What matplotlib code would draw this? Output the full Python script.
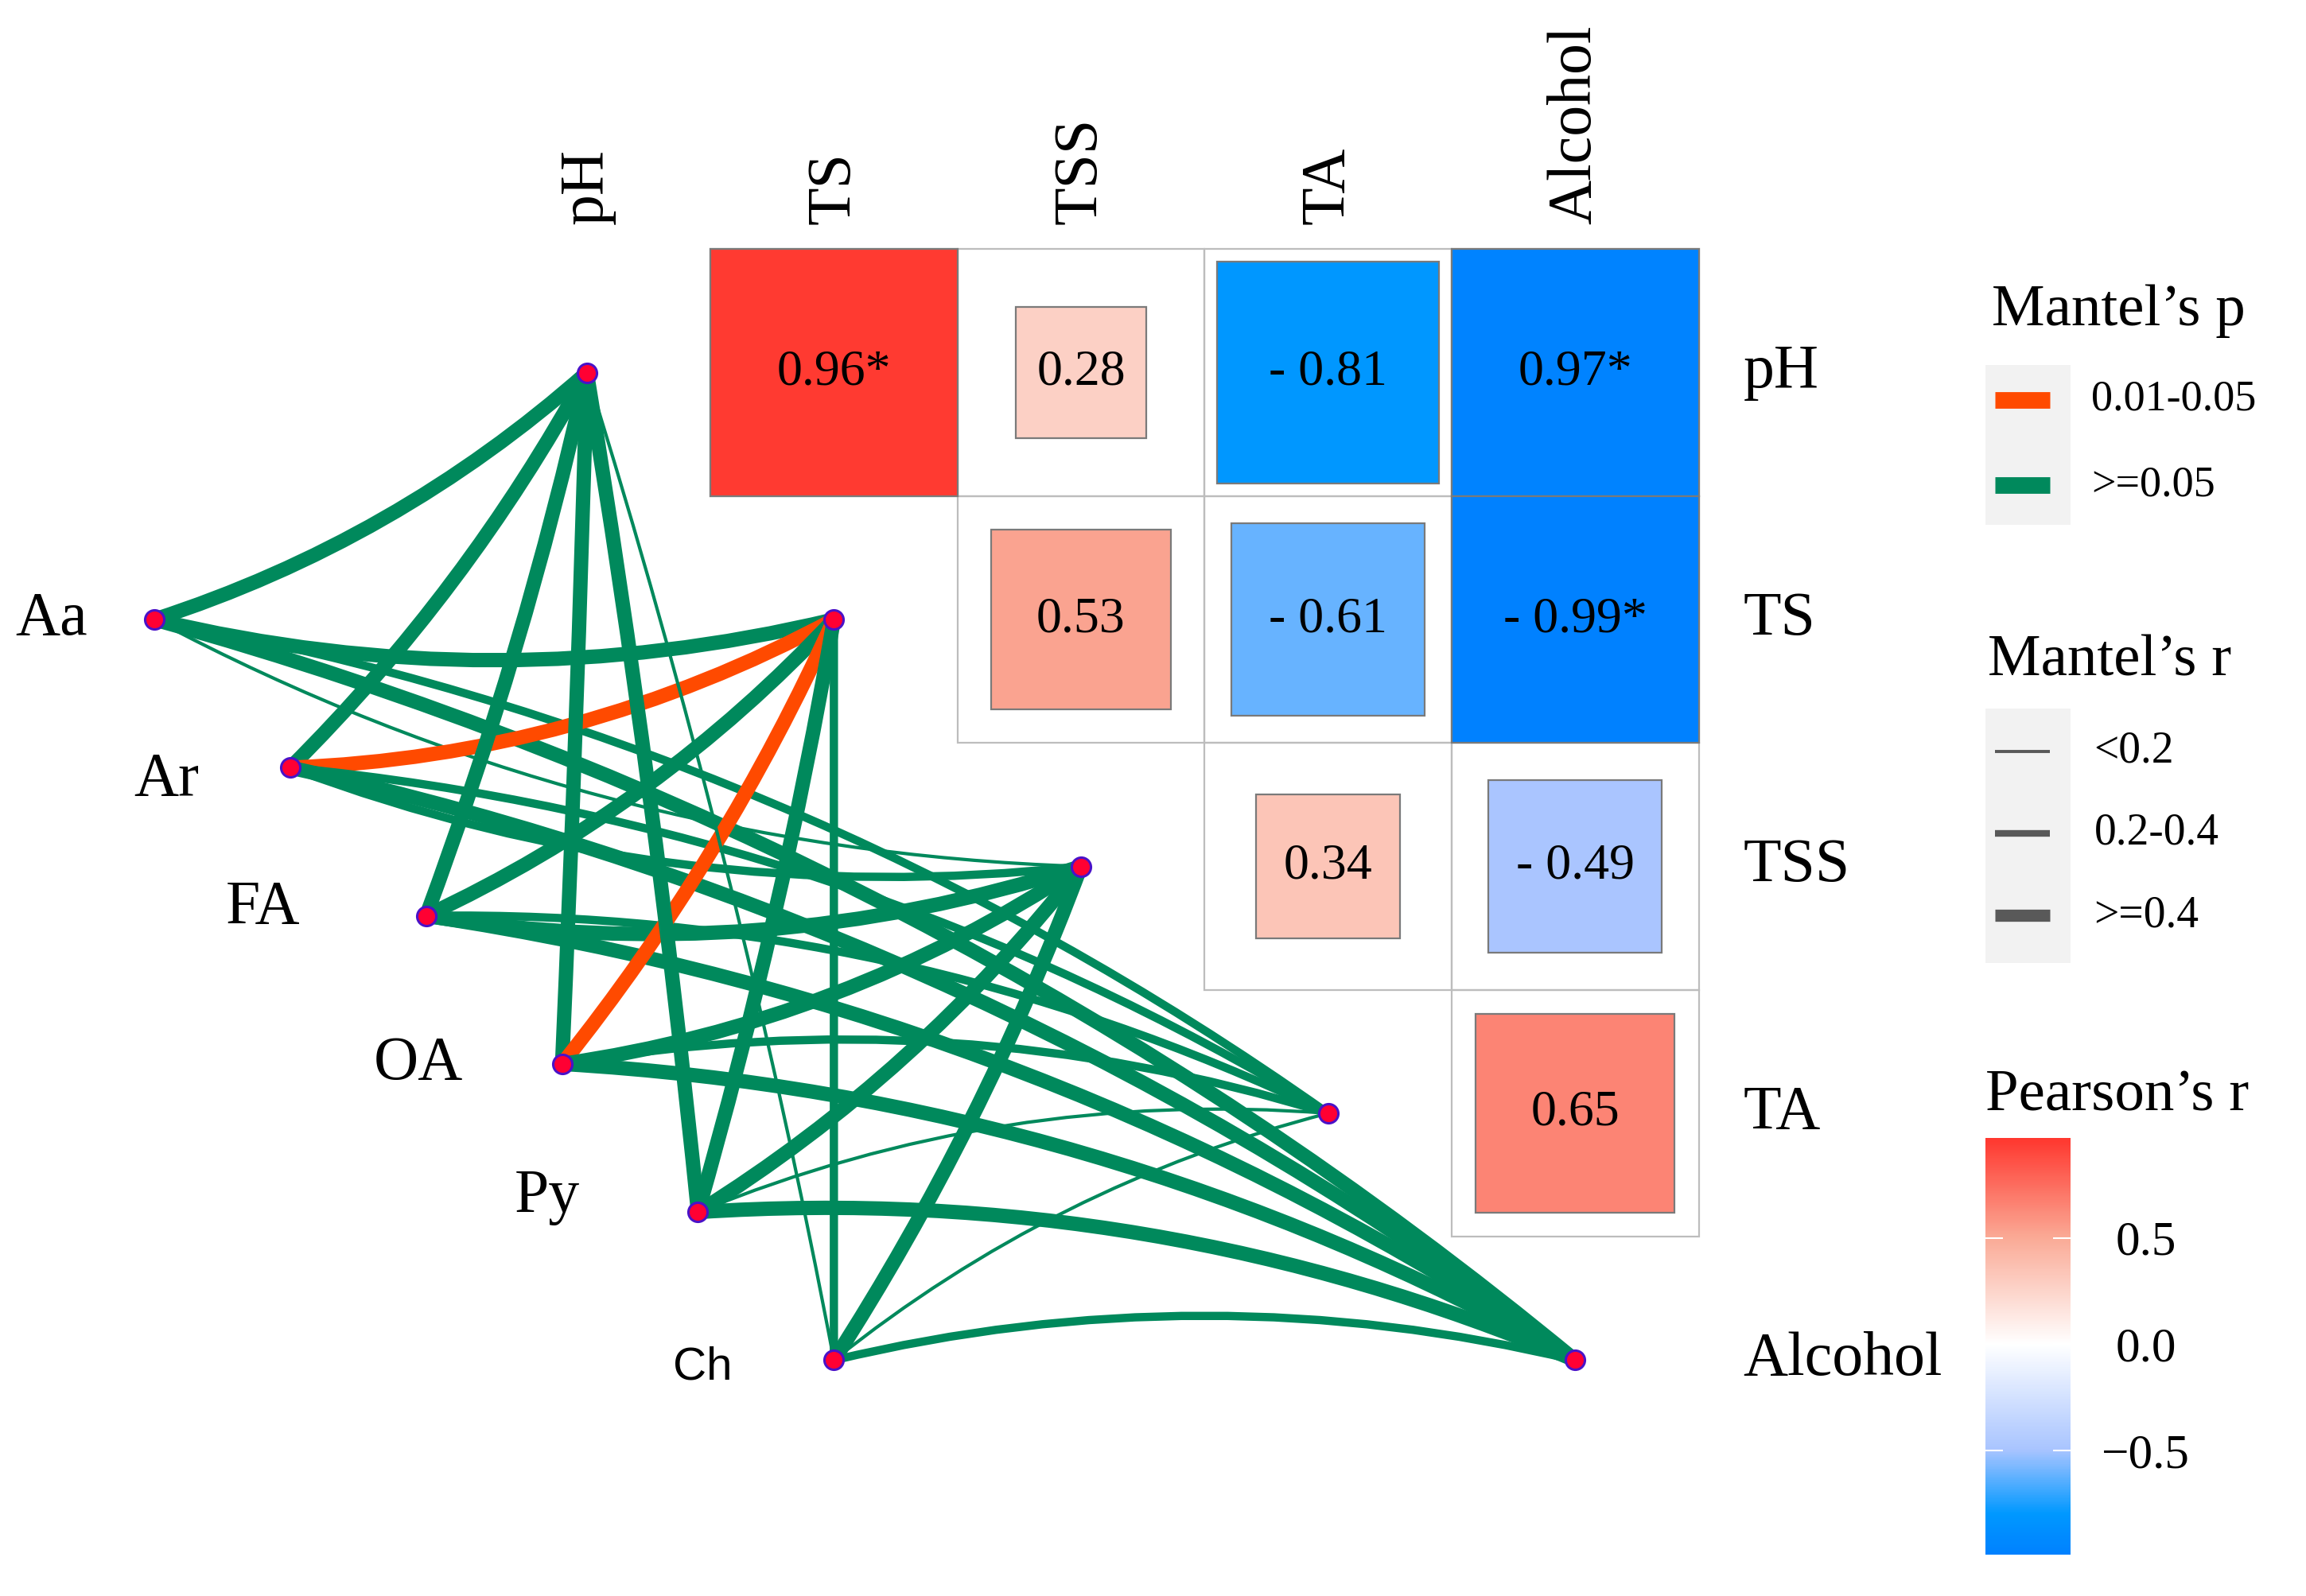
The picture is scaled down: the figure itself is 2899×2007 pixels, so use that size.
import numpy as np
import matplotlib
matplotlib.use("Agg")
import matplotlib.pyplot as plt
from matplotlib.patches import Rectangle, PathPatch
from matplotlib.path import Path
from matplotlib.colors import LinearSegmentedColormap, Normalize
from matplotlib.cm import ScalarMappable

# ---- data ----
env_vars = ["pH", "TS", "TSS", "TA", "Alcohol"]
species = ["Aa", "Ar", "FA", "OA", "Py", "Ch"]
heat_rows = ["pH", "TS", "TSS", "TA"]
heat_cols = ["TS", "TSS", "TA", "Alcohol"]
pearson_r = [[0.96, 0.28, -0.81, -0.97],
             [None, 0.53, -0.61, -0.99],
             [None, None, 0.34, -0.49],
             [None, None, None, 0.65]]
cell_text = [["0.96*", "0.28", "- 0.81", "0.97*"],
             ["", "0.53", "- 0.61", "- 0.99*"],
             ["", "", "0.34", "- 0.49"],
             ["", "", "", "0.65"]]
# Mantel test classes, rows = species, cols = env_vars
mantel_p = [[">=0.05", ">=0.05", ">=0.05", ">=0.05", ">=0.05"],
            [">=0.05", "0.01-0.05", ">=0.05", ">=0.05", ">=0.05"],
            [">=0.05", ">=0.05", ">=0.05", ">=0.05", ">=0.05"],
            [">=0.05", "0.01-0.05", ">=0.05", ">=0.05", ">=0.05"],
            [">=0.05", ">=0.05", ">=0.05", ">=0.05", ">=0.05"],
            [">=0.05", ">=0.05", ">=0.05", ">=0.05", ">=0.05"]]
mantel_r = [[">=0.4", ">=0.4", "<0.2", "0.2-0.4", ">=0.4"],
            [">=0.4", ">=0.4", "0.2-0.4", "0.2-0.4", ">=0.4"],
            [">=0.4", ">=0.4", ">=0.4", "0.2-0.4", ">=0.4"],
            [">=0.4", ">=0.4", ">=0.4", "0.2-0.4", ">=0.4"],
            [">=0.4", ">=0.4", ">=0.4", "<0.2", ">=0.4"],
            ["<0.2", "0.2-0.4", ">=0.4", "<0.2", "0.2-0.4"]]
p_levels = ["0.01-0.05", ">=0.05"]
r_levels = ["<0.2", "0.2-0.4", ">=0.4"]
cbar_ticks = [-0.5, 0.0, 0.5]
cbar_labels = ["\u22120.5", "0.0", "0.5"]

# ---- styles ----
serif = "Liberation Serif"
p_colors = {"0.01-0.05": "#FF4A00", ">=0.05": "#00895C"}
r_widths = {"<0.2": 3.0, "0.2-0.4": 7.5, ">=0.4": 13.0}
leg_widths = {"<0.2": 2.8, "0.2-0.4": 6.0, ">=0.4": 11.0}
# label offsets (x gap to the left of the node, y shift)
lab_dx = [0.27, 0.37, 0.51, 0.40, 0.48, 0.41]
lab_dy = [0.0, 0.05, -0.03, 0.0, -0.06, 0.03]
cmap = LinearSegmentedColormap.from_list(
    "pr", [(0.0, "#0080FF"), (0.1, "#0098FF"), (0.25, "#A8C4FF"),
           (0.5, "#FFFFFF"), (0.75, "#FAAA96"), (1.0, "#FF3028")])
norm = Normalize(-1, 1)

fig = plt.figure(figsize=(28.99, 20.07), dpi=100)
ax = fig.add_axes([0, 0, 1, 1])
ax.set_xlim(-3.375, 5.958)
ax.set_ylim(4.955, -1.509)
ax.axis("off")

# ---- heatmap (upper triangle) ----
for i, row in enumerate(heat_rows):
    for j, col in enumerate(heat_cols):
        r = pearson_r[i][j]
        if r is None:
            continue
        ax.add_patch(Rectangle((j - 0.5, i - 0.5), 1, 1, facecolor="none",
                               edgecolor="#BDBDBD", lw=1.6, zorder=1))
        side = 1.0 if "*" in cell_text[i][j] else np.sqrt(abs(r))
        ax.add_patch(Rectangle((j - side / 2, i - side / 2), side, side,
                               facecolor=cmap(norm(r)), edgecolor="#7A7A7A",
                               lw=1.6, zorder=2))
        ax.text(j, i, cell_text[i][j], ha="center", va="center",
                fontsize=46, family=serif, zorder=3)

# axis labels of the heatmap
for k, name in enumerate(env_vars):
    ax.text(k - 1, -0.6, name, rotation=90, ha="center", va="bottom",
            fontsize=56, family=serif)
    ax.text(3.68, k, name, ha="left", va="center", fontsize=56, family=serif)

# ---- network ----
env_x = np.arange(len(env_vars)) - 1.0
env_y = np.arange(len(env_vars)) * 1.0
sp_x = np.linspace(-2.75, 0.0, len(species))
sp_y = np.linspace(1.0, 4.0, len(species))

for s in range(len(species)):
    for e in range(len(env_vars)):
        x0, y0 = sp_x[s], sp_y[s]
        x1, y1 = env_x[e], env_y[e]
        dx, dy = x1 - x0, y1 - y0
        L = np.hypot(dx, dy)
        rad = 0.12 if e <= 2 else -0.12
        k = rad * abs(dx) / L
        cx = (x0 + x1) / 2 - k * dy
        cy = (y0 + y1) / 2 + k * dx
        path = Path([(x0, y0), (cx, cy), (x1, y1)],
                    [Path.MOVETO, Path.CURVE3, Path.CURVE3])
        ax.add_patch(PathPatch(path, facecolor="none",
                               edgecolor=p_colors[mantel_p[s][e]],
                               lw=r_widths[mantel_r[s][e]],
                               capstyle="butt", zorder=4))

node_kw = dict(s=300, facecolor="#FF0033", edgecolors="#4A12C8",
               linewidths=2.2, zorder=6)
ax.scatter(env_x, env_y, **node_kw)
ax.scatter(sp_x, sp_y, **node_kw)
for s, name in enumerate(species):
    if name == "Ch":
        ax.text(sp_x[s] - lab_dx[s], sp_y[s] + lab_dy[s], name, ha="right",
                va="center", fontsize=42, family="Liberation Sans")
    else:
        ax.text(sp_x[s] - lab_dx[s], sp_y[s] + lab_dy[s], name, ha="right",
                va="center", fontsize=56, family=serif)

# ---- legends ----
ax.text(5.2, -0.25, "Mantel\u2019s p", ha="center", va="center",
        fontsize=54, family=serif)
ax.add_patch(Rectangle((4.661, -0.03), 0.345, 0.646, facecolor="#F2F2F2",
                       edgecolor="none"))
for k, lev in enumerate(p_levels):
    yk = 0.11 + k * 0.345
    ax.plot([4.70, 4.92], [yk, yk], color=p_colors[lev], lw=15,
            solid_capstyle="butt")
    ax.text(5.09, yk, lev, ha="left", va="center", fontsize=39, family=serif)

ax.text(4.67, 1.17, "Mantel\u2019s r", ha="left", va="center",
        fontsize=54, family=serif)
ax.add_patch(Rectangle((4.661, 1.36), 0.345, 1.03, facecolor="#F2F2F2",
                       edgecolor="none"))
for k, lev in enumerate(r_levels):
    yk = 1.533 + k * 0.333
    ax.plot([4.70, 4.92], [yk, yk], color="#595959", lw=leg_widths[lev],
            solid_capstyle="butt")
    ax.text(5.10, yk, lev, ha="left", va="center", fontsize=40, family=serif)

ax.text(4.66, 2.93, "Pearson\u2019s r", ha="left", va="center",
        fontsize=54, family=serif)

cax = fig.add_axes([0.861, 0.026, 0.037, 0.261])
sm = ScalarMappable(norm=norm, cmap=cmap)
cb = fig.colorbar(sm, cax=cax)
cb.outline.set_visible(False)
cax.set_ylim(-0.99, 0.97)
cb.set_ticks(cbar_ticks)
cb.set_ticklabels(cbar_labels)
cax.yaxis.set_ticks_position("both")
cax.tick_params(axis="y", direction="in", color="white", length=16, width=1.5,
                labelleft=False, labelright=True, labelsize=44, pad=68)
for lab in cax.get_yticklabels():
    lab.set_family(serif)
    lab.set_horizontalalignment("center")

fig.savefig("out.png", dpi=100, facecolor="white")
